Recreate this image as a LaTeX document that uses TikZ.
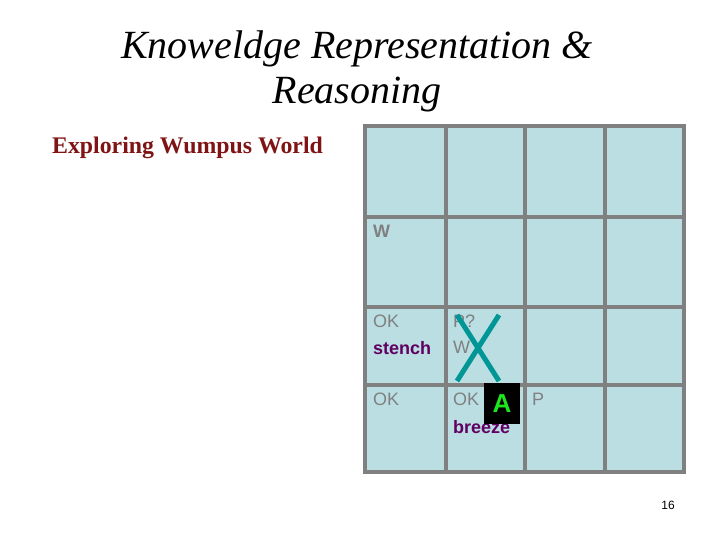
\documentclass[tikz,border=0pt]{standalone}
\usepackage{fontspec}
\setmainfont{Liberation Serif}
\setsansfont{Liberation Sans}
\definecolor{gridgray}{RGB}{128,128,128}
\definecolor{cellblue}{RGB}{186,222,226}
\definecolor{titlered}{RGB}{128,20,20}
\definecolor{sensepurple}{RGB}{96,0,96}
\definecolor{crossteal}{RGB}{0,150,150}
\definecolor{agentgreen}{RGB}{30,230,30}
\tikzset{
  gridline/.style={draw=gridgray,line width=4pt,line cap=rect},
  lbl/.style={anchor=base west,inner sep=0pt,text=gridgray,font=\sffamily\fontsize{18}{20}\selectfont},
  sense/.style={lbl,text=sensepurple,font=\sffamily\bfseries\fontsize{18}{20}\selectfont},
  crossline/.style={draw=crossteal,line width=5pt},
  agent/.style={fill=black,text=agentgreen,inner sep=0pt,minimum width=36pt,minimum height=41pt,font=\sffamily\bfseries\fontsize{26}{28}\selectfont}
}
\begin{document}
\begin{tikzpicture}[x=1pt,y=-1pt]
\useasboundingbox (0,0) rectangle (720,540);
\node[anchor=base,inner sep=0pt,font=\itshape\fontsize{40}{44}\selectfont] (title1) at (357,59) {Knoweldge Representation \&};
\node[anchor=base,inner sep=0pt,font=\itshape\fontsize{40}{44}\selectfont] (title2) at (357,104) {Reasoning};
\node[anchor=base west,inner sep=0pt,text=titlered,font=\bfseries\fontsize{23.8}{26}\selectfont] (sub) at (52,154) {Exploring Wumpus World};
% the 4x4 cave
\fill[cellblue] (365,126) rectangle (684,472);
\foreach \x in {365,446,525,605,684} \draw[gridline] (\x,126) -- (\x,472);
\foreach \y in {126,217,307,385,472} \draw[gridline] (365,\y) -- (684,\y);
% what the agent knows
\node[lbl,font=\sffamily\bfseries\fontsize{18}{20}\selectfont] (w1) at (373,237) {W};
\node[lbl] (ok12) at (373,327) {OK};
\node[sense] (st) at (373,354) {stench};
\node[lbl] (ok11) at (373,405) {OK};
\node[lbl] (pq) at (453,327) {P?};
\node[lbl] (w2) at (453,353) {W};
\node[lbl] (ok21) at (453,405) {OK};
\node[sense] (br) at (453,433) {breeze};
\node[lbl] (p) at (532,405) {P};
\node[agent] (a) at (502,403.5) {A};
\coordinate (xa) at (457,315);
\coordinate (xb) at (499,381);
\coordinate (xc) at (499,315);
\coordinate (xd) at (457,381);
\draw[crossline] (xa) -- (xb);
\draw[crossline] (xc) -- (xd);
\node[anchor=base,inner sep=0pt,font=\sffamily\fontsize{12}{14}\selectfont] (pg) at (668,509) {16};
\end{tikzpicture}
\end{document}
